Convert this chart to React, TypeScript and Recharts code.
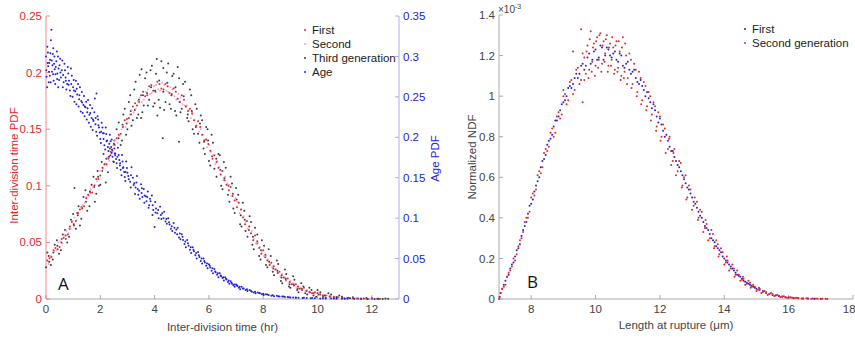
import { ScatterChart, Scatter, XAxis, YAxis } from 'recharts';

// Panel A: inter-division time (hr) vs PDF, three generations on the left axis
const firstGenA: [number, number][] = [
  [0.05, 0.034], [0.2, 0.037], [0.35, 0.045], [0.5, 0.046], [0.65, 0.054], [0.8, 0.057], [0.95, 0.068], [1.1, 0.069],
  [1.25, 0.079], [1.4, 0.082], [1.55, 0.092], [1.7, 0.094], [1.85, 0.106], [2.0, 0.109], [2.15, 0.119], [2.3, 0.124],
  [2.45, 0.131], [2.6, 0.142], [2.75, 0.146], [2.9, 0.158], [3.05, 0.16], [3.2, 0.17], [3.35, 0.171], [3.5, 0.18],
  [3.65, 0.179], [3.8, 0.188], [3.95, 0.184], [4.1, 0.192], [4.25, 0.186], [4.4, 0.19], [4.55, 0.182], [4.7, 0.186],
  [4.85, 0.177], [5.0, 0.18], [5.15, 0.17], [5.3, 0.168], [5.45, 0.158], [5.6, 0.157], [5.75, 0.145], [5.9, 0.141],
  [6.05, 0.131], [6.2, 0.127], [6.35, 0.116], [6.5, 0.113], [6.65, 0.101], [6.8, 0.099], [6.95, 0.087], [7.1, 0.085],
  [7.25, 0.072], [7.4, 0.069], [7.55, 0.058], [7.7, 0.056], [7.85, 0.045], [8.0, 0.043], [8.15, 0.034], [8.3, 0.032],
  [8.45, 0.026], [8.6, 0.024], [8.75, 0.019], [8.9, 0.018], [9.05, 0.013], [9.2, 0.013], [9.35, 0.009], [9.5, 0.01],
  [9.7, 0.006], [9.9, 0.006], [10.1, 0.004], [10.3, 0.003], [10.6, 0.002], [10.9, 0.001], [11.3, 0.0007], [11.8, 0.0003],
  [12.3, 0.0001],
  [0.13, 0.036], [0.28, 0.043], [0.43, 0.044], [0.58, 0.053], [0.73, 0.053], [0.88, 0.064], [1.03, 0.065], [1.18, 0.076],
  [1.33, 0.08], [1.48, 0.089], [1.63, 0.094], [1.78, 0.1], [1.93, 0.106], [2.08, 0.116], [2.23, 0.119], [2.38, 0.13],
  [2.53, 0.136], [2.68, 0.145], [2.83, 0.152], [2.98, 0.159], [3.13, 0.163], [3.28, 0.173], [3.43, 0.174], [3.58, 0.183],
  [3.73, 0.18], [3.88, 0.189], [4.03, 0.183], [4.18, 0.19], [4.33, 0.185], [4.48, 0.188], [4.63, 0.181], [4.78, 0.183],
  [4.93, 0.174], [5.08, 0.176], [5.23, 0.166], [5.38, 0.164], [5.53, 0.153], [5.68, 0.152], [5.83, 0.14], [5.98, 0.137],
  [6.13, 0.124], [6.28, 0.121], [6.43, 0.11], [6.58, 0.105], [6.73, 0.096], [6.88, 0.093], [7.03, 0.081], [7.18, 0.079],
  [7.33, 0.066], [7.48, 0.064], [7.63, 0.052], [7.78, 0.051], [7.93, 0.04], [8.08, 0.039], [8.23, 0.03], [8.38, 0.029],
  [8.53, 0.023], [8.68, 0.021], [8.83, 0.017], [8.98, 0.015], [9.13, 0.012], [9.28, 0.011], [9.43, 0.008], [9.6, 0.007],
  [9.8, 0.005], [10.0, 0.005], [10.2, 0.003], [10.45, 0.0025], [10.75, 0.0015], [11.1, 0.0008], [11.5, 0.0005], [12.0, 0.0002],
];

const secondGenA: [number, number][] = [
  [0.1, 0.031], [0.3, 0.042], [0.45, 0.05], [0.6, 0.049], [0.75, 0.06], [0.9, 0.062], [1.05, 0.072], [1.2, 0.075],
  [1.35, 0.083], [1.5, 0.09], [1.65, 0.097], [1.8, 0.101], [1.95, 0.113], [2.1, 0.115], [2.25, 0.125], [2.4, 0.128],
  [2.55, 0.14], [2.7, 0.144], [2.85, 0.153], [3.0, 0.156], [3.15, 0.167], [3.3, 0.168], [3.45, 0.178], [3.6, 0.176],
  [3.75, 0.185], [3.9, 0.182], [4.05, 0.189], [4.2, 0.184], [4.35, 0.189], [4.5, 0.183], [4.65, 0.185], [4.8, 0.176],
  [4.95, 0.178], [5.1, 0.171], [5.25, 0.167], [5.4, 0.163], [5.55, 0.153], [5.7, 0.15], [5.85, 0.141], [6.0, 0.136],
  [6.15, 0.127], [6.3, 0.122], [6.45, 0.113], [6.6, 0.108], [6.75, 0.101], [6.9, 0.092], [7.05, 0.086], [7.2, 0.079],
  [7.35, 0.068], [7.5, 0.064], [7.65, 0.053], [7.8, 0.05], [7.95, 0.042], [8.1, 0.038], [8.25, 0.031], [8.4, 0.029],
  [8.55, 0.023], [8.7, 0.022], [8.85, 0.016], [9.0, 0.016], [9.15, 0.012], [9.3, 0.011], [9.45, 0.008], [9.6, 0.008],
  [9.8, 0.005], [10.0, 0.005], [10.2, 0.003], [10.5, 0.002], [10.8, 0.0015], [11.1, 0.001], [11.6, 0.0004], [12.1, 0.0002],
  [0.18, 0.038], [0.38, 0.043], [0.53, 0.051], [0.68, 0.056], [0.83, 0.058], [0.98, 0.069], [1.13, 0.07], [1.28, 0.081],
  [1.43, 0.085], [1.58, 0.091], [1.73, 0.099], [1.88, 0.104], [2.03, 0.113], [2.18, 0.12], [2.33, 0.122], [2.48, 0.136],
  [2.63, 0.138], [2.78, 0.15], [2.93, 0.152], [3.08, 0.163], [3.23, 0.165], [3.38, 0.175], [3.53, 0.174], [3.68, 0.183],
  [3.83, 0.181], [3.98, 0.188], [4.13, 0.185], [4.28, 0.191], [4.43, 0.184], [4.58, 0.187], [4.73, 0.179], [4.88, 0.181],
  [5.03, 0.172], [5.18, 0.171], [5.33, 0.16], [5.48, 0.158], [5.63, 0.148], [5.78, 0.145], [5.93, 0.134], [6.08, 0.13],
  [6.23, 0.119], [6.38, 0.117], [6.53, 0.105], [6.68, 0.102], [6.83, 0.091], [6.98, 0.089], [7.13, 0.076], [7.28, 0.073],
  [7.43, 0.062], [7.58, 0.06], [7.73, 0.049], [7.88, 0.046], [8.03, 0.038], [8.18, 0.035], [8.33, 0.028], [8.48, 0.026],
  [8.63, 0.02], [8.78, 0.019], [8.93, 0.014], [9.08, 0.014], [9.23, 0.01], [9.38, 0.01], [9.55, 0.007], [9.7, 0.006],
  [9.9, 0.005], [10.1, 0.004], [10.35, 0.003], [10.65, 0.002], [10.95, 0.001], [11.4, 0.0006], [11.9, 0.0003],
];

const thirdGenA: [number, number][] = [
  [0.0, 0.028], [0.1, 0.038], [0.25, 0.035], [0.4, 0.052], [0.55, 0.043], [0.7, 0.061], [0.85, 0.055], [1.0, 0.075],
  [1.05, 0.098], [1.1, 0.062], [1.2, 0.082], [1.3, 0.071], [1.45, 0.096], [1.6, 0.082], [1.75, 0.108], [1.85, 0.093],
  [1.95, 0.1], [2.05, 0.121], [2.2, 0.103], [2.35, 0.133], [2.5, 0.121], [2.6, 0.15], [2.75, 0.136], [2.85, 0.163],
  [2.95, 0.145], [3.05, 0.174], [3.15, 0.153], [3.25, 0.185], [3.35, 0.16], [3.45, 0.198], [3.5, 0.16], [3.55, 0.165],
  [3.65, 0.195], [3.75, 0.171], [3.85, 0.202], [3.95, 0.17], [4.05, 0.199], [4.1, 0.162], [4.15, 0.176], [4.25, 0.21],
  [4.3, 0.142], [4.35, 0.167], [4.45, 0.2], [4.55, 0.172], [4.65, 0.197], [4.75, 0.166], [4.85, 0.205], [4.9, 0.139],
  [4.95, 0.165], [5.05, 0.19], [5.2, 0.16], [5.3, 0.185], [5.4, 0.15], [5.5, 0.172], [5.6, 0.146], [5.7, 0.162],
  [5.8, 0.133], [5.9, 0.152], [6.0, 0.122], [6.1, 0.145], [6.2, 0.115], [6.35, 0.128], [6.45, 0.1], [6.55, 0.121],
  [6.7, 0.092], [6.8, 0.108], [6.9, 0.08], [7.0, 0.098], [7.15, 0.066], [7.25, 0.085], [7.35, 0.06], [7.5, 0.073],
  [7.6, 0.048], [7.7, 0.063], [7.85, 0.038], [7.95, 0.052], [8.1, 0.03], [8.2, 0.044], [8.35, 0.024], [8.5, 0.034],
  [8.65, 0.016], [8.8, 0.026], [8.95, 0.011], [9.1, 0.02], [9.25, 0.008], [9.4, 0.014], [9.55, 0.005], [9.7, 0.01],
  [9.85, 0.003], [10.0, 0.008], [10.2, 0.002], [10.4, 0.005], [10.6, 0.001], [10.8, 0.003], [11.0, 0.0005], [11.3, 0.0015],
  [11.6, 0.0003], [12.0, 0.0006], [12.4, 0.0001], [12.6, 0.0003],
  [0.05, 0.041], [0.18, 0.03], [0.32, 0.048], [0.48, 0.04], [0.62, 0.057], [0.78, 0.05], [0.92, 0.07], [1.15, 0.076],
  [1.25, 0.065], [1.38, 0.09], [1.52, 0.078], [1.68, 0.101], [1.8, 0.086], [1.9, 0.113], [2.0, 0.101], [2.12, 0.128],
  [2.28, 0.112], [2.42, 0.141], [2.55, 0.127], [2.68, 0.156], [2.8, 0.14], [2.9, 0.168], [3.0, 0.15], [3.1, 0.18],
  [3.2, 0.158], [3.3, 0.192], [3.4, 0.163], [3.52, 0.203], [3.6, 0.171], [3.7, 0.2], [3.8, 0.176], [3.9, 0.206],
  [4.0, 0.173], [4.08, 0.212], [4.2, 0.169], [4.32, 0.204], [4.4, 0.174], [4.5, 0.208], [4.6, 0.168], [4.7, 0.199],
  [4.8, 0.162], [4.9, 0.195], [5.0, 0.168], [5.12, 0.192], [5.25, 0.157], [5.35, 0.18], [5.45, 0.146], [5.55, 0.168],
  [5.65, 0.138], [5.75, 0.158], [5.85, 0.128], [5.95, 0.15], [6.05, 0.118], [6.15, 0.138], [6.28, 0.108], [6.4, 0.127],
  [6.5, 0.097], [6.62, 0.116], [6.75, 0.086], [6.85, 0.102], [6.95, 0.076], [7.08, 0.092], [7.2, 0.064], [7.3, 0.078],
  [7.42, 0.055], [7.55, 0.068], [7.65, 0.044], [7.78, 0.057], [7.9, 0.035], [8.03, 0.047], [8.15, 0.028], [8.28, 0.038],
  [8.4, 0.021], [8.55, 0.031], [8.7, 0.014], [8.85, 0.022], [9.0, 0.01], [9.15, 0.017], [9.3, 0.006], [9.48, 0.011],
  [9.62, 0.004], [9.78, 0.008], [9.95, 0.002], [10.1, 0.006], [10.3, 0.001], [10.5, 0.004], [10.7, 0.0008], [10.9, 0.002],
  [11.15, 0.001], [11.45, 0.0004], [11.8, 0.0008], [12.2, 0.0002], [12.5, 0.0005],
  [0.12, 0.033], [0.27, 0.041], [0.42, 0.047], [0.57, 0.05], [0.72, 0.056], [0.87, 0.062], [1.02, 0.066], [1.17, 0.074],
  [1.32, 0.081], [1.47, 0.086], [1.62, 0.095], [1.77, 0.099], [1.92, 0.108], [2.07, 0.113], [2.22, 0.124], [2.37, 0.127],
  [2.52, 0.14], [2.67, 0.142], [2.82, 0.154], [2.97, 0.155], [3.12, 0.166], [3.27, 0.167], [3.42, 0.176], [3.57, 0.18],
  [3.72, 0.182], [3.87, 0.187], [4.02, 0.184], [4.17, 0.193], [4.32, 0.183], [4.47, 0.191], [4.62, 0.18], [4.77, 0.187],
  [4.92, 0.174], [5.07, 0.179], [5.22, 0.163], [5.37, 0.166], [5.52, 0.152], [5.67, 0.155], [5.82, 0.139], [5.97, 0.14],
  [6.12, 0.126], [6.27, 0.124], [6.42, 0.114], [6.57, 0.107], [6.72, 0.1], [6.87, 0.091], [7.02, 0.088], [7.17, 0.074],
  [7.32, 0.07], [7.47, 0.061], [7.62, 0.055], [7.77, 0.049], [7.92, 0.043], [8.07, 0.037], [8.22, 0.033], [8.37, 0.027],
  [8.52, 0.025], [8.67, 0.019], [8.82, 0.018], [8.97, 0.013], [9.12, 0.013], [9.27, 0.009], [9.42, 0.009], [9.57, 0.007],
  [9.72, 0.006], [9.87, 0.005], [10.05, 0.004], [10.25, 0.003], [10.45, 0.002], [10.7, 0.0017], [10.95, 0.0009], [11.2, 0.0006],
  [11.7, 0.0004], [12.25, 0.0002],
];

// Age PDF, plotted against the right axis
const ageA: [number, number][] = [
  [0.0, 0.3], [0.02, 0.275], [0.05, 0.312], [0.08, 0.288], [0.1, 0.268], [0.15, 0.296], [0.18, 0.32], [0.2, 0.333],
  [0.22, 0.281], [0.25, 0.303], [0.28, 0.27], [0.3, 0.291], [0.35, 0.278], [0.4, 0.306], [0.45, 0.262], [0.5, 0.289],
  [0.55, 0.274], [0.6, 0.295], [0.65, 0.268], [0.7, 0.283], [0.75, 0.259], [0.8, 0.287], [0.85, 0.27], [0.9, 0.251],
  [0.95, 0.276], [1.0, 0.262], [1.05, 0.244], [1.1, 0.27], [1.15, 0.253], [1.2, 0.238], [1.25, 0.262], [1.3, 0.245],
  [1.35, 0.23], [1.4, 0.251], [1.45, 0.237], [1.5, 0.222], [1.55, 0.246], [1.6, 0.228], [1.65, 0.213], [1.7, 0.236],
  [1.75, 0.22], [1.8, 0.248], [1.85, 0.207], [1.86, 0.254], [1.9, 0.226], [1.95, 0.212], [2.0, 0.198], [2.05, 0.218],
  [2.1, 0.205], [2.15, 0.19], [2.2, 0.212], [2.25, 0.196], [2.3, 0.183], [2.35, 0.203], [2.4, 0.188], [2.45, 0.176],
  [2.5, 0.192], [2.55, 0.18], [2.6, 0.168], [2.65, 0.187], [2.7, 0.172], [2.75, 0.16], [2.8, 0.178], [2.85, 0.163],
  [2.9, 0.151], [2.95, 0.17], [3.0, 0.156], [3.1, 0.145], [3.15, 0.163], [3.2, 0.15], [3.3, 0.138], [3.35, 0.152],
  [3.4, 0.129], [3.5, 0.142], [3.55, 0.126], [3.6, 0.136], [3.7, 0.121], [3.75, 0.133], [3.8, 0.116], [3.9, 0.128],
  [3.95, 0.11], [4.0, 0.089], [4.02, 0.12], [4.1, 0.106], [4.2, 0.114], [4.25, 0.099], [4.35, 0.108], [4.45, 0.093],
  [4.5, 0.1], [4.6, 0.087], [4.7, 0.094], [4.75, 0.082], [4.85, 0.088], [4.95, 0.074], [5.0, 0.08], [5.1, 0.068],
  [5.2, 0.073], [5.3, 0.061], [5.4, 0.064], [5.5, 0.054], [5.6, 0.058], [5.7, 0.047], [5.8, 0.05], [5.9, 0.041],
  [6.0, 0.043], [6.1, 0.035], [6.2, 0.037], [6.3, 0.03], [6.4, 0.032], [6.5, 0.026], [6.6, 0.027], [6.7, 0.021],
  [6.8, 0.022], [6.9, 0.017], [7.0, 0.018], [7.1, 0.014], [7.2, 0.015], [7.35, 0.011], [7.5, 0.011], [7.65, 0.008],
  [7.8, 0.008], [7.95, 0.006], [8.1, 0.006], [8.3, 0.004], [8.5, 0.004], [8.7, 0.003], [8.9, 0.0025], [9.1, 0.002],
  [9.3, 0.0015], [9.6, 0.0012], [9.9, 0.0008], [10.3, 0.0006], [10.7, 0.0004], [11.1, 0.0003], [11.6, 0.0002], [12.1, 0.0001],
  [0.01, 0.283], [0.04, 0.262], [0.07, 0.305], [0.12, 0.292], [0.14, 0.276], [0.17, 0.268], [0.24, 0.289], [0.27, 0.31],
  [0.32, 0.284], [0.34, 0.266], [0.38, 0.294], [0.42, 0.279], [0.44, 0.3], [0.48, 0.271], [0.52, 0.297], [0.58, 0.283],
  [0.62, 0.262], [0.68, 0.291], [0.72, 0.274], [0.78, 0.266], [0.82, 0.279], [0.88, 0.258], [0.92, 0.285], [0.98, 0.25],
  [1.02, 0.271], [1.08, 0.257], [1.12, 0.241], [1.18, 0.266], [1.22, 0.247], [1.28, 0.232], [1.32, 0.256], [1.38, 0.24],
  [1.42, 0.226], [1.48, 0.244], [1.52, 0.231], [1.58, 0.218], [1.62, 0.24], [1.68, 0.224], [1.72, 0.209], [1.78, 0.231],
  [1.82, 0.216], [1.88, 0.202], [1.92, 0.222], [1.98, 0.206], [2.02, 0.193], [2.08, 0.212], [2.12, 0.198], [2.18, 0.185],
  [2.22, 0.204], [2.28, 0.188], [2.32, 0.176], [2.38, 0.195], [2.42, 0.181], [2.48, 0.17], [2.52, 0.186], [2.58, 0.173],
  [2.62, 0.162], [2.68, 0.178], [2.72, 0.165], [2.78, 0.153], [2.82, 0.17], [2.88, 0.157], [2.92, 0.146], [2.98, 0.162],
  [3.05, 0.148], [3.12, 0.138], [3.25, 0.143], [3.28, 0.13], [3.38, 0.136], [3.45, 0.124], [3.52, 0.131], [3.62, 0.119],
  [3.68, 0.127], [3.78, 0.113], [3.85, 0.121], [3.92, 0.104], [4.05, 0.112], [4.15, 0.1], [4.28, 0.106], [4.4, 0.096],
  [4.55, 0.092], [4.65, 0.084], [4.8, 0.086], [4.9, 0.076], [5.05, 0.073], [5.15, 0.064], [5.25, 0.066], [5.35, 0.057],
  [5.45, 0.059], [5.55, 0.05], [5.65, 0.052], [5.75, 0.044], [5.85, 0.045], [5.95, 0.038], [6.05, 0.039], [6.15, 0.032],
  [6.25, 0.033], [6.35, 0.027], [6.45, 0.028], [6.55, 0.023], [6.65, 0.024], [6.75, 0.019], [6.85, 0.019], [6.95, 0.015],
  [7.05, 0.016], [7.15, 0.012], [7.28, 0.013], [7.42, 0.01], [7.58, 0.009], [7.72, 0.007], [7.88, 0.007], [8.02, 0.005],
  [8.2, 0.005], [8.4, 0.0035], [8.6, 0.003], [8.8, 0.0025], [9.0, 0.002], [9.2, 0.0016], [9.45, 0.0013], [9.75, 0.001],
  [10.1, 0.0007], [10.5, 0.0005], [10.9, 0.0004], [11.35, 0.0002], [11.85, 0.0001],
  [0.06, 0.292], [0.11, 0.281], [0.16, 0.304], [0.21, 0.295], [0.26, 0.278], [0.31, 0.3], [0.36, 0.287], [0.41, 0.272],
  [0.46, 0.285], [0.53, 0.28], [0.63, 0.277], [0.73, 0.27], [0.83, 0.265], [0.93, 0.266], [1.03, 0.258], [1.13, 0.26],
  [1.23, 0.252], [1.33, 0.243], [1.43, 0.238], [1.53, 0.236], [1.63, 0.23], [1.73, 0.222], [1.83, 0.224], [1.93, 0.215],
  [2.03, 0.207], [2.13, 0.205], [2.23, 0.195], [2.33, 0.192], [2.43, 0.185], [2.53, 0.18], [2.63, 0.176], [2.73, 0.168],
  [2.83, 0.162], [2.93, 0.157], [3.03, 0.152], [3.13, 0.153], [3.23, 0.141], [3.33, 0.144], [3.43, 0.134], [3.53, 0.137],
  [3.63, 0.128], [3.73, 0.126], [3.83, 0.124], [3.93, 0.116], [4.03, 0.107], [4.13, 0.11], [4.23, 0.104], [4.33, 0.1],
  [4.43, 0.099], [4.53, 0.095], [4.63, 0.09], [4.73, 0.088], [4.83, 0.08], [4.93, 0.081], [5.03, 0.077], [5.13, 0.071],
  [5.23, 0.069], [5.33, 0.064], [5.43, 0.061], [5.53, 0.057], [5.63, 0.054], [5.73, 0.05], [5.83, 0.047], [5.93, 0.044],
  [6.03, 0.041], [6.13, 0.038], [6.23, 0.034], [6.33, 0.032], [6.43, 0.029], [6.53, 0.027], [6.63, 0.025], [6.73, 0.023],
  [6.83, 0.02], [6.93, 0.018], [7.03, 0.017], [7.13, 0.015], [7.25, 0.013], [7.4, 0.012], [7.55, 0.01], [7.7, 0.009],
  [7.85, 0.0075], [8.0, 0.0065], [8.15, 0.0055], [8.35, 0.0045], [8.55, 0.0035], [8.75, 0.003], [8.95, 0.0022], [9.2, 0.0018],
  [9.5, 0.0014], [9.8, 0.0011], [10.2, 0.0008], [10.6, 0.0006], [11.0, 0.0004],
];

// Panel B: length at rupture (um) vs normalized NDF (x10^-3)
const firstGenB: [number, number][] = [
  [7.02, 0.01], [7.1, 0.05], [7.2, 0.09], [7.3, 0.12], [7.4, 0.17], [7.5, 0.21], [7.6, 0.25], [7.7, 0.31],
  [7.8, 0.36], [7.9, 0.42], [8.0, 0.47], [8.1, 0.53], [8.2, 0.58], [8.3, 0.65], [8.4, 0.69], [8.5, 0.76],
  [8.6, 0.79], [8.7, 0.85], [8.8, 0.88], [8.9, 0.93], [9.0, 0.97], [9.1, 1.0], [9.2, 1.05], [9.3, 1.06],
  [9.4, 1.11], [9.5, 1.11], [9.6, 1.16], [9.7, 1.15], [9.8, 1.21], [9.9, 1.18], [10.0, 1.23], [10.1, 1.19],
  [10.2, 1.24], [10.3, 1.2], [10.4, 1.23], [10.5, 1.19], [10.6, 1.22], [10.7, 1.17], [10.8, 1.2], [10.9, 1.14],
  [11.0, 1.17], [11.1, 1.11], [11.2, 1.13], [11.3, 1.07], [11.4, 1.08], [11.5, 1.03], [11.6, 1.02], [11.7, 0.97],
  [11.8, 0.96], [11.9, 0.9], [12.0, 0.89], [12.1, 0.83], [12.2, 0.81], [12.3, 0.75], [12.4, 0.73], [12.5, 0.68],
  [12.6, 0.65], [12.7, 0.61], [12.8, 0.57], [12.9, 0.54], [13.0, 0.5], [13.1, 0.47], [13.2, 0.43], [13.3, 0.4],
  [13.4, 0.36], [13.5, 0.34], [13.6, 0.3], [13.7, 0.28], [13.8, 0.25], [13.9, 0.23], [14.0, 0.2], [14.1, 0.18],
  [14.2, 0.16], [14.3, 0.14], [14.4, 0.12], [14.5, 0.11], [14.6, 0.09], [14.7, 0.08], [14.8, 0.07], [14.9, 0.06],
  [15.0, 0.05], [15.2, 0.04], [15.4, 0.025], [15.6, 0.017], [15.8, 0.011], [16.0, 0.007], [16.3, 0.004], [16.6, 0.002],
  [17.0, 0.001],
  [7.05, 0.03], [7.15, 0.07], [7.25, 0.11], [7.35, 0.15], [7.45, 0.18], [7.55, 0.24], [7.65, 0.27], [7.75, 0.34],
  [7.85, 0.38], [7.95, 0.46], [8.05, 0.49], [8.15, 0.56], [8.25, 0.6], [8.35, 0.68], [8.45, 0.71], [8.55, 0.78],
  [8.65, 0.81], [8.75, 0.88], [8.85, 0.9], [8.95, 0.96], [9.05, 0.98], [9.15, 1.04], [9.25, 1.04], [9.35, 1.09],
  [9.45, 1.09], [9.55, 1.15], [9.65, 1.13], [9.75, 1.19], [9.85, 1.16], [9.95, 1.22], [10.05, 1.18], [10.15, 1.25],
  [10.25, 1.18], [10.35, 1.24], [10.45, 1.2], [10.55, 1.21], [10.65, 1.18], [10.75, 1.21], [10.85, 1.15], [10.95, 1.16],
  [11.05, 1.13], [11.15, 1.12], [11.25, 1.09], [11.35, 1.06], [11.45, 1.05], [11.55, 1.0], [11.65, 0.99], [11.75, 0.94],
  [11.85, 0.93], [11.95, 0.87], [12.05, 0.86], [12.15, 0.8], [12.25, 0.78], [12.35, 0.73], [12.45, 0.7], [12.55, 0.66],
  [12.65, 0.63], [12.75, 0.59], [12.85, 0.55], [12.95, 0.52], [13.05, 0.48], [13.15, 0.45], [13.25, 0.41], [13.35, 0.38],
  [13.45, 0.35], [13.55, 0.32], [13.65, 0.29], [13.75, 0.26], [13.85, 0.24], [13.95, 0.21], [14.05, 0.19], [14.15, 0.17],
  [14.25, 0.15], [14.35, 0.13], [14.45, 0.115], [14.55, 0.1], [14.65, 0.085], [14.75, 0.075], [14.85, 0.065], [14.95, 0.055],
  [15.1, 0.045], [15.3, 0.03], [15.5, 0.02], [15.7, 0.014], [15.9, 0.009], [16.15, 0.005], [16.45, 0.003], [16.8, 0.0015],
];

const secondGenB: [number, number][] = [
  [7.0, 0.0], [7.05, 0.03], [7.15, 0.06], [7.25, 0.11], [7.35, 0.14], [7.45, 0.2], [7.55, 0.22], [7.65, 0.29],
  [7.75, 0.33], [7.85, 0.4], [7.95, 0.43], [8.05, 0.52], [8.15, 0.54], [8.25, 0.63], [8.35, 0.65], [8.45, 0.74],
  [8.55, 0.75], [8.65, 0.84], [8.75, 0.82], [8.85, 0.92], [8.95, 0.91], [9.0, 1.03], [9.05, 1.01], [9.15, 0.98],
  [9.25, 1.08], [9.3, 1.22], [9.35, 1.03], [9.45, 1.14], [9.55, 1.08], [9.55, 1.33], [9.6, 0.97], [9.65, 1.19],
  [9.7, 1.11], [9.75, 1.25], [9.8, 1.13], [9.85, 1.32], [9.9, 1.17], [9.95, 1.26], [10.0, 1.15], [10.05, 1.29],
  [10.1, 1.18], [10.15, 1.31], [10.2, 1.16], [10.25, 1.27], [10.3, 1.21], [10.35, 1.3], [10.4, 1.15], [10.45, 1.26],
  [10.5, 1.18], [10.55, 1.24], [10.6, 1.13], [10.65, 1.27], [10.7, 1.14], [10.75, 1.22], [10.8, 1.1], [10.85, 1.29],
  [10.9, 1.12], [10.95, 1.2], [11.0, 1.09], [11.1, 1.18], [11.15, 1.06], [11.25, 1.13], [11.3, 1.02], [11.4, 1.09],
  [11.45, 0.98], [11.55, 1.05], [11.6, 0.95], [11.7, 1.0], [11.75, 0.91], [11.85, 0.95], [11.9, 0.85], [12.0, 0.9],
  [12.05, 0.8], [12.15, 0.84], [12.25, 0.74], [12.3, 0.8], [12.4, 0.68], [12.45, 0.74], [12.55, 0.63], [12.65, 0.67],
  [12.7, 0.56], [12.8, 0.61], [12.85, 0.5], [12.95, 0.54], [13.05, 0.46], [13.15, 0.48], [13.2, 0.4], [13.3, 0.43],
  [13.4, 0.35], [13.45, 0.37], [13.55, 0.3], [13.65, 0.32], [13.7, 0.26], [13.8, 0.27], [13.85, 0.22], [13.95, 0.23],
  [14.05, 0.18], [14.1, 0.19], [14.2, 0.15], [14.3, 0.15], [14.35, 0.12], [14.45, 0.12], [14.55, 0.095], [14.6, 0.1],
  [14.7, 0.075], [14.8, 0.08], [14.85, 0.06], [14.95, 0.06], [15.05, 0.045], [15.1, 0.05], [15.2, 0.035], [15.3, 0.035],
  [15.4, 0.025], [15.5, 0.025], [15.6, 0.018], [15.7, 0.016], [15.8, 0.012], [15.9, 0.01], [16.0, 0.008], [16.1, 0.007],
  [16.2, 0.005], [16.3, 0.005], [16.45, 0.003], [16.6, 0.003], [16.75, 0.002], [16.9, 0.001], [17.05, 0.001], [17.2, 0.0005],
  [7.02, 0.01], [7.1, 0.05], [7.2, 0.07], [7.3, 0.13], [7.4, 0.16], [7.5, 0.19], [7.6, 0.26], [7.7, 0.3],
  [7.8, 0.38], [7.9, 0.4], [8.0, 0.5], [8.1, 0.51], [8.2, 0.61], [8.3, 0.62], [8.4, 0.72], [8.5, 0.73],
  [8.6, 0.82], [8.7, 0.8], [8.8, 0.9], [8.9, 0.89], [9.0, 1.0], [9.1, 0.96], [9.2, 1.07], [9.3, 1.01],
  [9.4, 1.13], [9.5, 1.06], [9.6, 1.21], [9.65, 1.08], [9.72, 1.22], [9.78, 1.09], [9.82, 1.28], [9.88, 1.12],
  [9.92, 1.24], [9.98, 1.1], [10.02, 1.27], [10.08, 1.14], [10.12, 1.3], [10.18, 1.12], [10.22, 1.25], [10.28, 1.17],
  [10.32, 1.28], [10.38, 1.12], [10.42, 1.24], [10.48, 1.15], [10.52, 1.29], [10.58, 1.11], [10.62, 1.25], [10.68, 1.12],
  [10.72, 1.27], [10.78, 1.08], [10.82, 1.24], [10.88, 1.09], [10.92, 1.26], [10.98, 1.06], [11.05, 1.21], [11.12, 1.04],
  [11.2, 1.16], [11.28, 1.0], [11.35, 1.12], [11.42, 0.96], [11.5, 1.07], [11.58, 0.93], [11.65, 1.02], [11.72, 0.88],
  [11.8, 0.97], [11.88, 0.83], [11.95, 0.92], [12.02, 0.78], [12.1, 0.86], [12.18, 0.72], [12.28, 0.79], [12.35, 0.66],
  [12.42, 0.72], [12.5, 0.61], [12.6, 0.68], [12.68, 0.55], [12.75, 0.6], [12.82, 0.49], [12.9, 0.56], [13.0, 0.44],
  [13.08, 0.5], [13.18, 0.39], [13.25, 0.44], [13.35, 0.33], [13.42, 0.39], [13.5, 0.29], [13.6, 0.34], [13.68, 0.25],
  [13.75, 0.29], [13.82, 0.21], [13.9, 0.25], [14.0, 0.17], [14.08, 0.21], [14.15, 0.14], [14.25, 0.17], [14.32, 0.11],
  [14.4, 0.14], [14.5, 0.09], [14.58, 0.11], [14.65, 0.07], [14.75, 0.09], [14.82, 0.055], [14.9, 0.07], [15.0, 0.04],
  [15.08, 0.055], [15.15, 0.03], [15.25, 0.04], [15.35, 0.02], [15.45, 0.03], [15.55, 0.015], [15.65, 0.02], [15.75, 0.01],
  [15.85, 0.014], [15.95, 0.006], [16.05, 0.009], [16.15, 0.004], [16.25, 0.006], [16.4, 0.002], [16.55, 0.004], [16.7, 0.001],
  [16.85, 0.002], [17.0, 0.0005], [17.15, 0.001],
];

const timeTicks = [0, 2, 4, 6, 8, 10, 12];
const pdfTicks = [0, 0.05, 0.1, 0.15, 0.2, 0.25];
const ageTicks = [0, 0.05, 0.1, 0.15, 0.2, 0.25, 0.3, 0.35];
const lengthTicks = [8, 10, 12, 14, 16, 18];
const ndfTicks = [0, 0.2, 0.4, 0.6, 0.8, 1, 1.2, 1.4];

const FONT = '"Liberation Sans", Arial, Helvetica, sans-serif';
const RED = '#e4262c';
const PINK = '#f3a6cf';
const DARK = '#3c3c3c';
const BLUE = '#2323d6';
const GREY_TEXT = '#444444';
const GREY_LINE = '#a9a9a9';

const toPoints = (rows: [number, number][]) => rows.map(([x, y]) => ({ x, y }));

const dot = (color: string) => (props: any) => (
  <circle cx={props.cx} cy={props.cy} r={1} fill={color} />
);

// vertical axis title, centred on the plot height plus a small shift
const sideTitle = (text: string, color: string, inset: number, shift: number, fromRight = false) => (props: any) => {
  const vb = props.viewBox;
  const x = fromRight ? vb.x + vb.width - inset : vb.x + inset;
  const y = vb.y + vb.height / 2 + shift;
  return (
    <text x={x} y={y} transform={`rotate(-90, ${x}, ${y})`} textAnchor="middle" dominantBaseline="central"
      fill={color} fontSize={11.5} fontFamily={FONT}>
      {text}
    </text>
  );
};

const legendA = [
  { name: 'First', color: RED },
  { name: 'Second', color: PINK },
  { name: 'Third generation', color: DARK },
  { name: 'Age', color: BLUE },
];

const legendB = [
  { name: 'First', color: BLUE },
  { name: 'Second generation', color: RED },
];

const LegendBox = ({ items, left, top }: { items: { name: string; color: string }[]; left: number; top: number }) => (
  <div style={{ position: 'absolute', left, top, fontFamily: FONT, fontSize: 11.5, color: '#222' }}>
    {items.map((it) => (
      <div key={it.name} style={{ display: 'flex', alignItems: 'center', height: 14 }}>
        <span style={{ width: 2, height: 2, borderRadius: 1, background: it.color, marginRight: 6 }} />
        <span>{it.name}</span>
      </div>
    ))}
  </div>
);

export default function App() {
  const tickGrey = { fill: GREY_TEXT, fontSize: 11.5, fontFamily: FONT };
  return (
    <div style={{ position: 'absolute', left: 0, top: 0, width: 855, height: 339, background: '#fff', overflow: 'hidden' }}>
      <div style={{ position: 'absolute', left: 0, top: 0 }}>
        <ScatterChart width={455} height={339} margin={{ top: 16, right: 0, bottom: 0, left: 0 }}>
          <XAxis
            type="number"
            dataKey="x"
            domain={[0, 13]}
            ticks={timeTicks}
            height={40}
            stroke={GREY_LINE}
            tickSize={-4}
            tickMargin={10}
            tick={tickGrey}
            label={{ value: 'Inter-division time (hr)', position: 'insideBottom', offset: 8, fill: GREY_TEXT, fontSize: 11.5, fontFamily: FONT }}
          />
          <YAxis
            yAxisId="left"
            type="number"
            dataKey="y"
            domain={[0, 0.25]}
            ticks={pdfTicks}
            width={46}
            stroke="#ee8a8a"
            tickSize={-4}
            tickMargin={8}
            tick={{ fill: RED, fontSize: 11.5, fontFamily: FONT }}
            label={{ value: 'Inter-division time PDF', content: sideTitle('Inter-division time PDF', RED, 14, 8) }}
          />
          <YAxis
            yAxisId="right"
            orientation="right"
            type="number"
            dataKey="y"
            domain={[0, 0.35]}
            ticks={ageTicks}
            width={56}
            stroke="#aeaedc"
            tickSize={-4}
            tickMargin={8}
            tick={{ fill: BLUE, fontSize: 11.5, fontFamily: FONT }}
            label={{ value: 'Age PDF', content: sideTitle('Age PDF', BLUE, 20, 1, true) }}
          />
          <Scatter yAxisId="left" data={toPoints(thirdGenA)} shape={dot(DARK)} isAnimationActive={false} />
          <Scatter yAxisId="left" data={toPoints(secondGenA)} shape={dot(PINK)} isAnimationActive={false} />
          <Scatter yAxisId="left" data={toPoints(firstGenA)} shape={dot(RED)} isAnimationActive={false} />
          <Scatter yAxisId="right" data={toPoints(ageA)} shape={dot(BLUE)} isAnimationActive={false} />
        </ScatterChart>
      </div>

      <div style={{ position: 'absolute', left: 455, top: 0 }}>
        <ScatterChart width={400} height={339} margin={{ top: 15, right: 2, bottom: 0, left: 0 }}>
          <XAxis
            type="number"
            dataKey="x"
            domain={[7, 18]}
            ticks={lengthTicks}
            height={40}
            stroke={GREY_LINE}
            tickSize={-4}
            tickMargin={10}
            tick={tickGrey}
            label={{ value: 'Length at rupture (\u03bcm)', position: 'insideBottom', offset: 10, fill: GREY_TEXT, fontSize: 11.5, fontFamily: FONT }}
          />
          <XAxis
            xAxisId="top"
            orientation="top"
            type="number"
            domain={[7, 18]}
            ticks={lengthTicks}
            height={0}
            stroke={GREY_LINE}
            tickSize={-4}
            tickFormatter={() => ''}
          />
          <YAxis
            type="number"
            dataKey="y"
            domain={[0, 1.4]}
            ticks={ndfTicks}
            width={44}
            stroke={GREY_LINE}
            tickSize={-4}
            tickMargin={8}
            tick={tickGrey}
            label={{ value: 'Normalized NDF', content: sideTitle('Normalized NDF', GREY_TEXT, 17, 0) }}
          />
          <YAxis
            yAxisId="rightBox"
            orientation="right"
            type="number"
            domain={[0, 1.4]}
            ticks={ndfTicks}
            width={0}
            stroke={GREY_LINE}
            tickSize={-4}
            tickFormatter={() => ''}
          />
          <Scatter data={toPoints(firstGenB)} shape={dot(BLUE)} isAnimationActive={false} />
          <Scatter data={toPoints(secondGenB)} shape={dot(RED)} isAnimationActive={false} />
        </ScatterChart>
      </div>

      <LegendBox items={legendA} left={304} top={23} />
      <LegendBox items={legendB} left={744} top={22} />

      <div style={{ position: 'absolute', left: 498, top: 3, fontFamily: FONT, fontSize: 10, color: GREY_TEXT }}>
        {'\u00d710'}
        <sup style={{ fontSize: 7 }}>-3</sup>
      </div>
      <div style={{ position: 'absolute', left: 58, top: 272, fontFamily: '"Open Sans", sans-serif', fontSize: 17, color: '#111' }}>A</div>
      <div style={{ position: 'absolute', left: 527, top: 270, fontFamily: '"Open Sans", sans-serif', fontSize: 17, color: '#111' }}>B</div>
    </div>
  );
}
